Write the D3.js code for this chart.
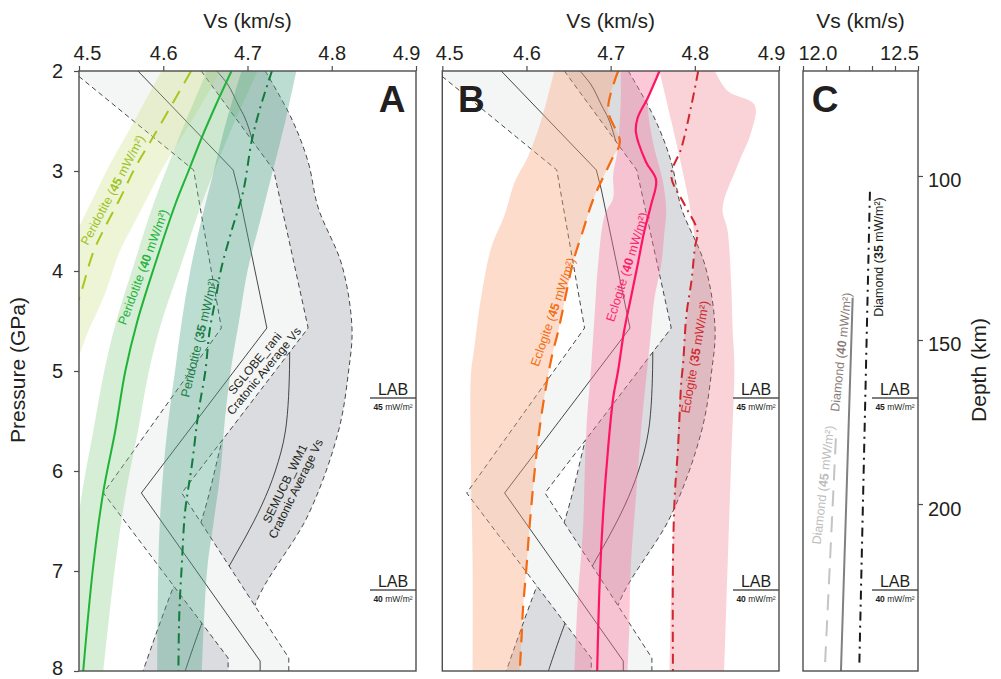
<!DOCTYPE html>
<html><head><meta charset="utf-8">
<script src="https://cdn.jsdelivr.net/npm/d3@7"></script>
<style>body{margin:0;background:#fff}svg{display:block}text{font-family:"Liberation Sans",Arial,Helvetica,sans-serif}</style>
</head><body><svg id="c" width="1001" height="679"></svg>
<script>
// ---------------- DATA (Vs km/s, Pressure GPa) ----------------
const vsTicksAB = [4.5, 4.6, 4.7, 4.8, 4.9];
const vsTicksC = [12.0, 12.1, 12.2, 12.3, 12.4, 12.5];
const vsLabelsC = [12.0, 12.5];
const pressureTicks = [2, 3, 4, 5, 6, 7, 8];
const depthTicks = [100, 150, 200];
const labPressure = [5.27, 7.19];
const labFlux = ["45", "40"];

// SGLOBE_rani cratonic average
const sgCenter = [[4.570,2],[4.683,2.99],[4.689,3.19],[4.723,4.57],[4.574,6.22],[4.715,7.9],[4.715,8]];
const sgLeft   = [[4.492,2],[4.636,2.99],[4.669,4.57],[4.529,6.22],[4.677,7.87],[4.677,8]];
const sgRight  = [[4.645,2],[4.731,2.99],[4.772,4.57],[4.622,6.22],[4.749,7.87],[4.749,8]];
// SEMUCB_WM1 cratonic average
const semCenter = [[4.6635,2],[4.677,2.14],[4.689,2.34],[4.697,2.47],[4.705,2.67],[4.72,3.2],[4.738,3.8],[4.748,4.4],[4.750,4.9],[4.745,5.6],[4.733,6.0],[4.717,6.34],[4.697,6.67],[4.677,6.97],[4.660,7.25],[4.646,7.52],[4.626,8]];
const semLeft  = [[4.61,2],[4.665,3],[4.695,4],[4.70,4.57],[4.69,5.0],[4.669,5.72],[4.644,6.53],[4.612,7.16],[4.576,8]];
const semRight = [[4.721,2],[4.752,2.47],[4.772,2.91],[4.784,3.37],[4.812,3.94],[4.824,4.57],[4.820,5.0],[4.808,5.6],[4.772,6.44],[4.709,7.34],[4.695,8]];

// Peridotite
const pdt45Line  = [[4.633,2],[4.61,2.34],[4.588,2.66],[4.567,2.96],[4.549,3.27],[4.531,3.56],[4.517,3.81],[4.503,4.2],[4.497,4.35]];
const pdt45Left  = [[4.598,2],[4.576,2.34],[4.555,2.66],[4.535,2.96],[4.517,3.27],[4.5,3.56],[4.486,3.81],[4.47,4.2]];
const pdt45Right = [[4.668,2],[4.645,2.34],[4.622,2.66],[4.600,2.96],[4.581,3.27],[4.563,3.56],[4.548,3.81],[4.532,4.2],[4.522,4.4],[4.511,4.6],[4.500,4.85],[4.488,5.1]];
const pdt40Line  = [[4.681,2],[4.663,2.33],[4.646,2.66],[4.630,3.0],[4.614,3.34],[4.590,3.94],[4.569,4.51],[4.555,5.0],[4.543,5.6],[4.529,6.2],[4.517,6.94],[4.505,8]];
const pdt40Left  = [[4.652,2],[4.619,2.66],[4.588,3.34],[4.565,3.94],[4.544,4.51],[4.530,5.0],[4.517,5.6],[4.504,6.2],[4.492,6.94],[4.48,8]];
const pdt40Right = [[4.712,2],[4.677,2.66],[4.645,3.34],[4.621,3.94],[4.598,4.51],[4.583,5.0],[4.570,5.6],[4.556,6.2],[4.543,6.94],[4.529,8]];
const pdt35Line  = [[4.729,2],[4.715,2.37],[4.705,2.7],[4.695,3.2],[4.681,3.6],[4.669,3.97],[4.663,4.24],[4.655,4.6],[4.650,5.0],[4.642,5.4],[4.634,5.94],[4.626,6.4],[4.622,6.94],[4.619,7.44],[4.618,8]];
const pdt35Left  = [[4.693,2],[4.675,2.5],[4.66,3.0],[4.645,3.5],[4.632,4.0],[4.622,4.5],[4.614,5.0],[4.606,5.5],[4.600,6.0],[4.596,6.5],[4.594,7.0],[4.593,8]];
const pdt35Right = [[4.758,2],[4.745,2.5],[4.730,3.0],[4.715,3.5],[4.700,4.0],[4.690,4.5],[4.680,5.0],[4.673,5.5],[4.668,6.0],[4.660,6.5],[4.652,7.0],[4.646,8]];

// Eclogite
const e45Line  = [[4.709,2],[4.697,2.39],[4.711,2.71],[4.701,2.89],[4.679,3.29],[4.667,3.6],[4.656,3.89],[4.648,4.19],[4.638,4.59],[4.630,4.86],[4.620,5.32],[4.612,5.82],[4.604,6.52],[4.600,6.96],[4.596,7.36],[4.594,7.69],[4.592,8]];
const e45Left  = [[4.633,2],[4.625,2.27],[4.613,2.61],[4.601,2.87],[4.586,3.11],[4.574,3.44],[4.558,3.77],[4.546,4.27],[4.538,4.77],[4.534,5.04],[4.534,5.94],[4.536,6.94],[4.536,8]];
const e40Line  = [[4.758,2],[4.744,2.27],[4.732,2.47],[4.730,2.61],[4.742,2.91],[4.754,3.09],[4.748,3.34],[4.740,3.6],[4.732,3.94],[4.724,4.27],[4.716,4.6],[4.709,4.99],[4.703,5.27],[4.697,5.77],[4.691,6.44],[4.687,7.1],[4.684,8]];
const e40Left  = [[4.712,2],[4.712,2.3],[4.708,2.8],[4.703,3.04],[4.703,3.27],[4.693,3.44],[4.685,3.94],[4.681,4.44],[4.677,4.94],[4.671,5.6],[4.667,6.6],[4.661,7.27],[4.657,8]];
const e40Right = [[4.758,2],[4.745,2.3],[4.75,2.7],[4.762,3.1],[4.766,3.4],[4.764,3.6],[4.760,3.94],[4.752,4.27],[4.748,4.6],[4.744,4.94],[4.736,5.6],[4.730,6.27],[4.724,6.94],[4.722,7.6],[4.720,8]];
const e35Line  = [[4.804,2],[4.796,2.34],[4.784,2.77],[4.772,3.05],[4.788,3.34],[4.803,3.6],[4.800,3.77],[4.796,4.1],[4.790,4.44],[4.786,4.94],[4.784,5.1],[4.780,5.77],[4.776,6.27],[4.774,6.94],[4.774,8]];
const e35Left  = [[4.758,2],[4.772,2.5],[4.786,3.02],[4.795,3.4],[4.800,3.7],[4.797,4.1],[4.790,4.5],[4.784,5.0],[4.779,5.8],[4.775,6.5],[4.772,7.2],[4.770,8]];
const e35Right = [[4.824,2],[4.839,2.2],[4.871,2.34],[4.867,2.61],[4.851,2.94],[4.833,3.37],[4.839,3.6],[4.843,4.1],[4.845,4.6],[4.847,4.94],[4.843,5.94],[4.839,6.94],[4.835,8]];

// Diamond (Vs km/s, depth km)
const dia35 = [[12.291,104.8],[12.245,248.6]];
const dia40 = [[12.216,137.1],[12.165,250.9]];
const dia45 = [[12.143,180],[12.096,248.6]];

// ---------------- LAYOUT ----------------
const Y0 = 71, Y1 = 671;
const xA = d3.scaleLinear([4.5, 4.9], [79, 416]);
const xB = d3.scaleLinear([4.5, 4.9], [442.3, 779]);
const xC = d3.scaleLinear([12.0, 12.5], [803, 918]);
const yP = d3.scaleLinear([2, 8], [Y0, Y1]);
const yD = d3.scaleLinear([68, 250.9], [Y0, Y1]);
const INK = "#231f20";

const svg = d3.select("#c");
const defs = svg.append("defs");
function makeClip(id, x) {
  const r = x.range();
  defs.append("clipPath").attr("id", id).append("rect")
    .attr("x", r[0]).attr("y", Y0).attr("width", r[1] - r[0]).attr("height", Y1 - Y0);
}
makeClip("clipA", xA); makeClip("clipB", xB); makeClip("clipC", xC);

function lineGen(x, y, curve) {
  return d3.line().x(d => x(d[0])).y(d => y(d[1])).curve(curve || d3.curveLinear);
}
function bandPath(x, y, left, right, curve) {
  const g = lineGen(x, y, curve);
  return g(left) + g(right.slice().reverse()).replace(/^M/, "L") + "Z";
}
const smooth = d3.curveCatmullRom.alpha(0.5);

function cratonic(g, x) {
  // SEMUCB (gray)
  g.append("path").attr("d", bandPath(x, yP, semLeft, semRight, smooth)).attr("fill", "#dbdcdf");
  [semLeft, semRight].forEach(e => g.append("path").attr("d", lineGen(x, yP, smooth)(e))
    .attr("fill", "none").attr("stroke", "#333").attr("stroke-width", 0.9).attr("stroke-dasharray", "5,3.5"));
  g.append("path").attr("d", lineGen(x, yP, smooth)(semCenter)).attr("fill", "none").attr("stroke", "#333").attr("stroke-width", 0.9);
  // SGLOBE (light, opaque)
  g.append("path").attr("d", bandPath(x, yP, sgLeft, sgRight)).attr("fill", "#f4f6f5");
  [sgLeft, sgRight].forEach(e => g.append("path").attr("d", lineGen(x, yP)(e))
    .attr("fill", "none").attr("stroke", "#333").attr("stroke-width", 0.9).attr("stroke-dasharray", "5,3.5"));
  g.append("path").attr("d", lineGen(x, yP)(sgCenter)).attr("fill", "none").attr("stroke", "#333").attr("stroke-width", 0.9);
}

function band(g, x, left, right, fill, op) {
  g.append("path").attr("d", bandPath(x, yP, left, right, smooth)).attr("fill", fill).attr("fill-opacity", op);
}
function vline(g, x, y, data, color, w, dash) {
  const p = g.append("path").attr("d", lineGen(x, y, smooth)(data)).attr("fill", "none")
    .attr("stroke", color).attr("stroke-width", w);
  if (dash) p.attr("stroke-dasharray", dash);
}
function richLabel(g, px, py, angle, parts, color, size) {
  const t = g.append("text").attr("transform", `translate(${px},${py}) rotate(${angle})`)
    .attr("text-anchor", "middle").attr("dy", "0.35em").attr("fill", color).attr("font-size", size);
  parts.forEach(p => t.append("tspan").text(p[0]).attr("font-weight", p[1] ? "bold" : "normal"));
}
function twoLine(g, px, py, angle, l1, l2, size) {
  const t = g.append("text").attr("transform", `translate(${px},${py}) rotate(${angle})`)
    .attr("text-anchor", "middle").attr("fill", INK).attr("font-size", size);
  t.append("tspan").attr("x", 0).attr("y", -1.6).text(l1);
  t.append("tspan").attr("x", 0).attr("y", 10.4).text(l2);
}

// ---------------- PANEL A ----------------
const gA = svg.append("g").attr("clip-path", "url(#clipA)");
cratonic(gA, xA);
band(gA, xA, pdt45Left, pdt45Right, "rgb(200,220,120)", 0.3);
band(gA, xA, pdt40Left, pdt40Right, "rgb(130,200,130)", 0.33);
band(gA, xA, pdt35Left, pdt35Right, "rgb(80,165,135)", 0.38);
vline(gA, xA, yP, pdt45Line, "#a6c81e", 2, "14,9");
vline(gA, xA, yP, pdt40Line, "#1fb437", 2);
vline(gA, xA, yP, pdt35Line, "#137a3f", 2, "10,5,2,5");
richLabel(gA, xA(4.540), yP(3.19), -62, [["Peridotite (",0],["45",1],[" mW/m²)",0]], "#9cc31c", 12.5);
richLabel(gA, xA(4.576), yP(3.96), -69.6, [["Peridotite (",0],["40",1],[" mW/m²)",0]], "#22b53a", 12.5);
richLabel(gA, xA(4.6425), yP(4.665), -76.5, [["Peridotite (",0],["35",1],[" mW/m²)",0]], "#1b7f47", 12.5);
twoLine(gA, xA(4.7138), yP(4.96), -50.5, "SGLOBE_rani", "Cratonic Average Vs", 12);
twoLine(gA, xA(4.7506), yP(6.15), -64, "SEMUCB_WM1", "Cratonic Average Vs", 12);

// ---------------- PANEL B ----------------
const gB = svg.append("g").attr("clip-path", "url(#clipB)");
cratonic(gB, xB);
band(gB, xB, e45Left, e45Line, "rgb(249,163,122)", 0.38);
band(gB, xB, e35Left, e35Right, "rgb(235,110,125)", 0.3);
band(gB, xB, e40Left, e40Right, "rgb(250,120,160)", 0.4);
vline(gB, xB, yP, e45Line, "#f36a12", 2.2, "14,9");
vline(gB, xB, yP, e40Line, "#ff1464", 2.2);
vline(gB, xB, yP, e35Line, "#d1262e", 2, "10,5,2,5");
richLabel(gB, xB(4.6315), yP(4.41), -71, [["Eclogite (",0],["45",1],[" mW/m²)",0]], "#f36f14", 12.5);
richLabel(gB, xB(4.7194), yP(3.96), -72.4, [["Eclogite (",0],["40",1],[" mW/m²)",0]], "#fe1f6b", 12.5);
richLabel(gB, xB(4.800), yP(4.86), -80, [["Eclogite (",0],["35",1],[" mW/m²)",0]], "#d12b30", 12.5);

// ---------------- PANEL C ----------------
const gC = svg.append("g").attr("clip-path", "url(#clipC)");
vline(gC, xC, yD, dia45, "#c4c4c4", 2, "16,10");
vline(gC, xC, yD, dia40, "#808080", 2);
vline(gC, xC, yD, dia35, "#1a1a1a", 2, "9,5,2,5");
richLabel(gC, xC(12.330), yD(124.7), -90, [["Diamond (",0],["35",1],[" mW/m²)",0]], INK, 12.5);
richLabel(gC, xC(12.165), yD(153.7), -84, [["Diamond (",0],["40",1],[" mW/m²)",0]], "#8a7d78", 12.5);
richLabel(gC, xC(12.087), yD(194.2), -83.5, [["Diamond (",0],["45",1],[" mW/m²)",0]], "#bdbdbd", 12.5);

// ---------------- LAB markers ----------------
[xA, xB, xC].forEach(x => {
  const xr = x.range()[1];
  labPressure.forEach((p, i) => {
    const y = yP(p);
    svg.append("line").attr("x1", xr - 46).attr("x2", xr).attr("y1", y).attr("y2", y)
      .attr("stroke", "#7f7f7f").attr("stroke-width", 1.8);
    svg.append("text").attr("x", xr - 23).attr("y", y - 3.5).attr("text-anchor", "middle")
      .attr("font-size", 16).attr("fill", INK).text("LAB");
    const t = svg.append("text").attr("x", xr - 23).attr("y", y + 11.5).attr("text-anchor", "middle")
      .attr("font-size", 8.5).attr("fill", INK);
    t.append("tspan").attr("font-weight", "bold").text(labFlux[i]);
    t.append("tspan").text(" mW/m²");
  });
});

// ---------------- FRAMES & AXES ----------------
[xA, xB, xC].forEach(x => {
  const r = x.range();
  svg.append("rect").attr("x", r[0]).attr("y", Y0).attr("width", r[1] - r[0]).attr("height", Y1 - Y0)
    .attr("fill", "none").attr("stroke", "#4d4d4d").attr("stroke-width", 1.4);
});

function topAxis(x, ticks, labels, firstDx, lastDx) {
  const ax = svg.append("g").attr("transform", `translate(0,${Y0})`)
    .call(d3.axisTop(x).tickValues(ticks).tickSize(5).tickSizeOuter(0).tickPadding(6)
      .tickFormat(d => labels.includes(d) ? d3.format(".1f")(d) : ""));
  ax.select(".domain").remove();
  ax.selectAll("line").attr("stroke", "#4d4d4d").attr("stroke-width", 1.2);
  const txt = ax.selectAll("text").attr("font-size", 20).attr("fill", INK)
    .attr("font-family", "'Liberation Sans',Arial,sans-serif");
  const nodes = txt.nodes().filter(n => n.textContent !== "");
  d3.select(nodes[0]).attr("text-anchor", "start").attr("x", firstDx);
  d3.select(nodes[nodes.length - 1]).attr("text-anchor", "end").attr("x", lastDx);
  const r = x.range();
  svg.append("text").attr("x", (r[0] + r[1]) / 2).attr("y", 28).attr("text-anchor", "middle")
    .attr("font-size", 21).attr("fill", INK).text("Vs (km/s)");
}
topAxis(xA, vsTicksAB, vsTicksAB, -6, 4);
topAxis(xB, vsTicksAB, vsTicksAB, -7, 6);
topAxis(xC, vsTicksC, vsLabelsC, -5, 0.5);

const axL = svg.append("g").attr("transform", `translate(${xA.range()[0]},0)`)
  .call(d3.axisLeft(yP).tickValues(pressureTicks).tickSize(5).tickSizeOuter(0).tickPadding(11).tickFormat(d3.format("d")));
axL.select(".domain").remove();
axL.selectAll("line").attr("stroke", "#4d4d4d").attr("stroke-width", 1.2);
axL.selectAll("text").attr("font-size", 20).attr("fill", INK)
  .attr("dy", d => d === 8 ? "0.17em" : "0.3em")
  .attr("font-family", "'Liberation Sans',Arial,sans-serif");
svg.append("text").attr("transform", `translate(25,370) rotate(-90)`).attr("text-anchor", "middle")
  .attr("font-size", 21).attr("fill", INK).text("Pressure (GPa)");

const axR = svg.append("g").attr("transform", `translate(${xC.range()[1]},0)`)
  .call(d3.axisRight(yD).tickValues(depthTicks).tickSize(5).tickSizeOuter(0).tickPadding(5).tickFormat(d3.format("d")));
axR.select(".domain").remove();
axR.selectAll("line").attr("stroke", "#4d4d4d").attr("stroke-width", 1.2);
axR.selectAll("text").attr("font-size", 20).attr("fill", INK).attr("dy", "0.55em").attr("font-family", "'Liberation Sans',Arial,sans-serif");
svg.append("text").attr("transform", `translate(986,370) rotate(-90)`).attr("text-anchor", "middle")
  .attr("font-size", 21).attr("fill", INK).text("Depth (km)");

// panel letters
[["A", xA.range()[1] - 24], ["B", xB.range()[0] + 29], ["C", xC.range()[0] + 22]].forEach(([l, cx]) => {
  svg.append("text").attr("x", cx).attr("y", 112).attr("text-anchor", "middle")
    .attr("font-size", 37).attr("font-weight", "bold").attr("fill", INK).text(l);
});
</script></body></html>
